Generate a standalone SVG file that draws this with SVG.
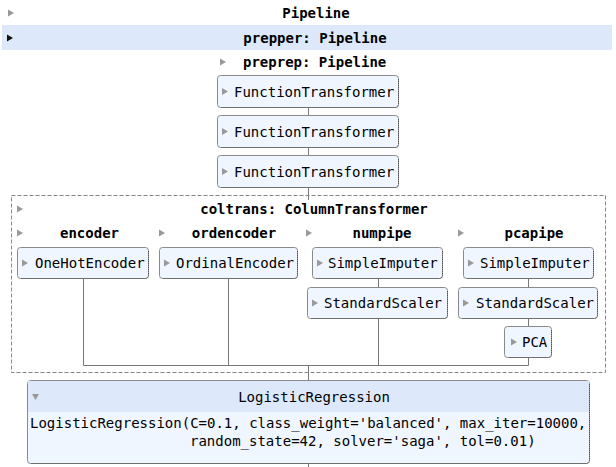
<svg xmlns="http://www.w3.org/2000/svg" width="616" height="467" viewBox="0 0 616 467">
<defs>
<style>
text{font-family:"DejaVu Sans Mono","Liberation Mono",monospace;font-size:14px;fill:#000;}
.b{font-weight:bold;}
.box{fill:#f0f6ff;stroke:#8a8a8a;stroke-width:1;}
.dot{fill:none;stroke:#555;stroke-width:1;stroke-dasharray:1 1;}
.tri{fill:#999;}
.ln{stroke:#777;stroke-width:1;fill:none;}
</style>
<path id="ar" d="M0,-3.5 L6,0 L0,3.5 Z"/>
</defs>
<g id="connectors">
<path class="ln" d="M308.5,107 V115 M308.5,147 V155 M308.5,187 V200"/>
<path class="ln" d="M83.5,278 V365.5 H528.5 M228.5,278 V365.5 M378.5,278 V287 M378.5,318 V365.5 M528.5,278 V287 M528.5,318 V326 M528.5,357 V365.5"/>
<path class="ln" d="M308.5,365.5 V380 M308.5,463 V467"/>
</g>
<g id="pipeline">
<use href="#ar" x="8" y="13" class="tri"/>
<text x="316" y="18" text-anchor="middle" class="b">Pipeline</text>
</g>
<g id="prepper">
<rect x="2" y="25" width="610" height="25" fill="#dde9fb"/>
<use href="#ar" x="7" y="38" fill="#111"/>
<text x="315" y="43" text-anchor="middle" class="b">prepper: Pipeline</text>
</g>
<g id="preprep">
<use href="#ar" x="220" y="62" class="tri"/>
<text x="243" y="67" class="b">preprep: Pipeline</text>
</g>
<g id="ft1">
<rect class="box" x="217.5" y="75.5" width="181" height="32" rx="3"/>
<path class="dot" d="M398.5,79 V104 Q398.5,107.5 395,107.5 H221"/>
<use href="#ar" x="222" y="91.5" class="tri"/>
<text x="234" y="96.5">FunctionTransformer</text>
</g>
<g id="ft2">
<rect class="box" x="217.5" y="115.5" width="181" height="32" rx="3"/>
<path class="dot" d="M398.5,119 V144 Q398.5,147.5 395,147.5 H221"/>
<use href="#ar" x="222" y="131.5" class="tri"/>
<text x="234" y="136.5">FunctionTransformer</text>
</g>
<g id="ft3">
<rect class="box" x="217.5" y="155.5" width="181" height="32" rx="3"/>
<path class="dot" d="M398.5,159 V184 Q398.5,187.5 395,187.5 H221"/>
<use href="#ar" x="222" y="171.5" class="tri"/>
<text x="234" y="176.5">FunctionTransformer</text>
</g>
<g id="coltrans">
<rect x="11.5" y="195.5" width="594" height="177" fill="none" stroke="#888" stroke-dasharray="4 2"/>
<use href="#ar" x="17" y="209" class="tri"/>
<text x="314" y="214" text-anchor="middle" class="b">coltrans: ColumnTransformer</text>
</g>
<g id="encoder">
<use href="#ar" x="17" y="233" class="tri"/>
<text x="89.5" y="238" text-anchor="middle" class="b">encoder</text>
<rect class="box" x="17.5" y="247.5" width="131" height="31" rx="3"/>
<path class="dot" d="M148.5,251 V275 Q148.5,278.5 145,278.5 H21"/>
<use href="#ar" x="22" y="263" class="tri"/>
<text x="35" y="268">OneHotEncoder</text>
</g>
<g id="ordencoder">
<use href="#ar" x="159" y="233" class="tri"/>
<text x="234" y="238" text-anchor="middle" class="b">ordencoder</text>
<rect class="box" x="159.5" y="247.5" width="138" height="31" rx="3"/>
<path class="dot" d="M297.5,251 V275 Q297.5,278.5 294,278.5 H163"/>
<use href="#ar" x="164" y="263" class="tri"/>
<text x="176" y="268">OrdinalEncoder</text>
</g>
<g id="numpipe">
<use href="#ar" x="306" y="233" class="tri"/>
<text x="382" y="238" text-anchor="middle" class="b">numpipe</text>
<rect class="box" x="312.5" y="247.5" width="130" height="31" rx="3"/>
<path class="dot" d="M442.5,251 V275 Q442.5,278.5 439,278.5 H316"/>
<use href="#ar" x="317" y="263" class="tri"/>
<text x="328" y="268">SimpleImputer</text>
<rect class="box" x="307.5" y="287.5" width="140" height="31" rx="3"/>
<path class="dot" d="M447.5,291 V315 Q447.5,318.5 444,318.5 H311"/>
<use href="#ar" x="312" y="303" class="tri"/>
<text x="324" y="308">StandardScaler</text>
</g>
<g id="pcapipe">
<use href="#ar" x="458" y="233" class="tri"/>
<text x="534" y="238" text-anchor="middle" class="b">pcapipe</text>
<rect class="box" x="463.5" y="247.5" width="130" height="31" rx="3"/>
<path class="dot" d="M593.5,251 V275 Q593.5,278.5 590,278.5 H467"/>
<use href="#ar" x="468" y="263" class="tri"/>
<text x="480" y="268">SimpleImputer</text>
<rect class="box" x="458.5" y="287.5" width="139" height="31" rx="3"/>
<path class="dot" d="M597.5,291 V315 Q597.5,318.5 594,318.5 H462"/>
<use href="#ar" x="463" y="303" class="tri"/>
<text x="476" y="308">StandardScaler</text>
<rect class="box" x="504.5" y="326.5" width="47" height="31" rx="3"/>
<path class="dot" d="M551.5,330 V354 Q551.5,357.5 548,357.5 H508"/>
<use href="#ar" x="511" y="342" class="tri"/>
<text x="522" y="347">PCA</text>
</g>
<g id="logreg">
<rect class="box" x="27.5" y="380.5" width="562" height="83" rx="3"/>
<path d="M28,381 H589 V412 H28 Z" fill="#dde9fb"/>
<path class="dot" d="M589.5,384 V460 Q589.5,463.5 586,463.5 H31"/>
<path d="M32,394 L39,394 L35.5,400 Z" class="tri"/>
<text x="314" y="402" text-anchor="middle">LogisticRegression</text>
<text x="30" y="428" xml:space="preserve">LogisticRegression(C=0.1, class_weight='balanced', max_iter=10000,</text>
<text x="190" y="446">random_state=42, solver='saga', tol=0.01)</text>
</g>
</svg>
